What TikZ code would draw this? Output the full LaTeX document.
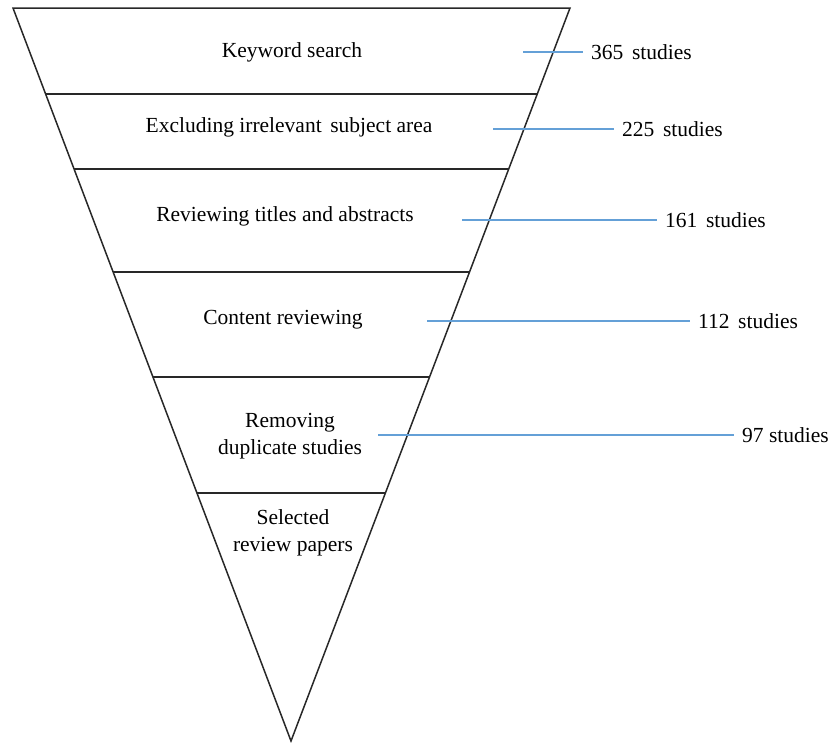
\documentclass[tikz,border=0pt]{standalone}
\usepackage{fontspec}
\setmainfont{Liberation Serif}
\definecolor{lineblue}{RGB}{100,160,215}
\definecolor{edgegray}{RGB}{40,40,40}
\newcommand{\gapsp}{\hspace{0.4em}}
\tikzset{
  funnel/.style={draw=edgegray, line width=1.5pt, line join=miter},
  divider/.style={draw=edgegray, line width=1.5pt},
  stagetext/.style={font=\fontsize{21.5}{27}\selectfont, align=center, inner sep=0pt},
  counttext/.style={font=\fontsize{21.5}{27}\selectfont, anchor=west, inner sep=0pt},
  countline/.style={draw=lineblue, line width=1.4pt, shorten >=8pt}
}
\begin{document}
\begin{tikzpicture}[x=1pt,y=-1pt]
\useasboundingbox (0,0) rectangle (837,742);
% funnel outline
\coordinate (TL) at (13,8);
\coordinate (TR) at (570,8);
\coordinate (A) at (291,741);
\draw[funnel] (TL) -- (TR) -- (A) -- cycle;
% dividers
\coordinate (l1) at (45.6,94);  \coordinate (r1) at (537.3,94);
\coordinate (l2) at (74.1,169); \coordinate (r2) at (508.7,169);
\coordinate (l3) at (113.1,272); \coordinate (r3) at (469.5,272);
\coordinate (l4) at (153,377);  \coordinate (r4) at (429.6,377);
\coordinate (l5) at (197,493);  \coordinate (r5) at (385.4,493);
\draw[divider] (l1) -- (r1);
\draw[divider] (l2) -- (r2);
\draw[divider] (l3) -- (r3);
\draw[divider] (l4) -- (r4);
\draw[divider] (l5) -- (r5);
% stage texts
\node[stagetext] (t1) at (292,52) {Keyword search};
\node[stagetext] (t2) at (289,127) {Excluding irrelevant\gapsp subject area};
\node[stagetext] (t3) at (285,216) {Reviewing titles and abstracts};
\node[stagetext] (t4) at (283,320) {Content reviewing};
\node[stagetext] (t5) at (290,436) {Removing\\duplicate studies};
\node[stagetext] (t6) at (293,533) {Selected\\review papers};
% counts
\coordinate (b1) at (523,52);
\coordinate (b2) at (493,129);
\coordinate (b3) at (462,220);
\coordinate (b4) at (427,321);
\coordinate (b5) at (378,435);
\node[counttext] (s1) at (591,52) {365\gapsp studies};
\node[counttext] (s2) at (622,129) {225\gapsp studies};
\node[counttext] (s3) at (665,220) {161\gapsp studies};
\node[counttext] (s4) at (698,321) {112\gapsp studies};
\node[counttext] (s5) at (742,435) {97 studies};
\draw[countline] (b1) -- (s1.west);
\draw[countline] (b2) -- (s2.west);
\draw[countline] (b3) -- (s3.west);
\draw[countline] (b4) -- (s4.west);
\draw[countline] (b5) -- (s5.west);
\end{tikzpicture}
\end{document}
